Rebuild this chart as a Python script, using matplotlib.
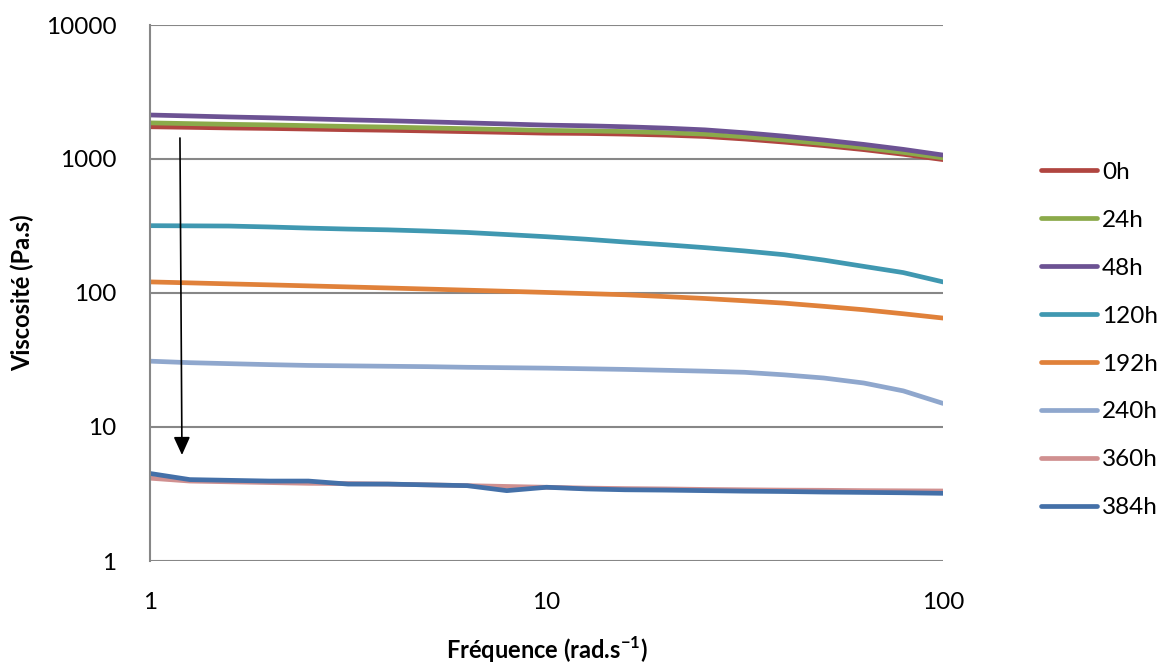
import matplotlib
matplotlib.use("Agg")
import matplotlib.pyplot as plt
from matplotlib.ticker import FixedLocator, FixedFormatter, NullLocator

plt.rcParams['font.family'] = ['Lato', 'DejaVu Sans']

freq = [1, 1.26, 1.58, 2.0, 2.51, 3.16, 3.98, 5.01, 6.31, 7.94, 10,
        12.6, 15.8, 20.0, 25.1, 31.6, 39.8, 50.1, 63.1, 79.4, 100]

v_0h = [1740, 1723, 1705, 1691, 1673, 1654, 1639, 1620, 1600, 1580, 1559,
        1551, 1534, 1508, 1473, 1410, 1337, 1259, 1175, 1085, 990]
v_24h = [1860, 1837, 1815, 1797, 1774, 1750, 1731, 1707, 1683, 1659, 1634,
         1623, 1603, 1573, 1533, 1465, 1387, 1303, 1214, 1120, 1020]
v_48h = [2130, 2095, 2060, 2030, 1995, 1960, 1930, 1895, 1860, 1825, 1790,
         1770, 1740, 1700, 1650, 1570, 1480, 1385, 1285, 1180, 1070]
v_120h = [318, 317, 316, 311, 305, 300, 296, 290, 283, 273, 263,
          252, 240, 229, 218, 206, 193, 176, 158, 142, 121]
v_192h = [121, 119, 117, 115, 113, 111, 109, 107, 105, 103, 101,
          99, 97, 94, 91, 87.5, 84, 79.5, 75, 70, 65]
v_240h = [31, 30.2, 29.7, 29.2, 28.8, 28.6, 28.4, 28.2, 27.9, 27.7, 27.5,
          27.2, 26.9, 26.5, 26.1, 25.6, 24.5, 23.2, 21.3, 18.6, 15.0]
v_360h = [4.15, 3.95, 3.9, 3.85, 3.8, 3.78, 3.75, 3.7, 3.65, 3.6, 3.55,
          3.5, 3.47, 3.45, 3.42, 3.4, 3.38, 3.37, 3.35, 3.34, 3.33]
v_384h = [4.5, 4.05, 4.0, 3.95, 3.95, 3.75, 3.75, 3.7, 3.65, 3.35, 3.55,
          3.45, 3.4, 3.38, 3.35, 3.32, 3.3, 3.27, 3.25, 3.23, 3.2]

labels = ['0h', '24h', '48h', '120h', '192h', '240h', '360h', '384h']
series = [v_0h, v_24h, v_48h, v_120h, v_192h, v_240h, v_360h, v_384h]
colors = ['#B04540', '#8BAA4A', '#6C5293', '#4098B1', '#E0813A',
          '#8FA7CD', '#D09090', '#4470A8']

y_ticks = [1, 10, 100, 1000, 10000]
y_ticklabels = ['1', '10', '100', '1000', '10000']
x_ticks = [1, 10, 100]
x_ticklabels = ['1', '10', '100']

fig = plt.figure(figsize=(11.57, 6.66), dpi=100)
ax = fig.add_axes([150/1157, 1-561/666, (943-150)/1157, (561-25)/666])

for vals, lab, c in zip(series, labels, colors):
    ax.plot(freq, vals, color=c, lw=3.4, label=lab, solid_capstyle='round',
            solid_joinstyle='round')

ax.set_xscale('log')
ax.set_yscale('log')
ax.set_xlim(1, 100)
ax.set_ylim(1, 10000)

ax.yaxis.set_major_locator(FixedLocator(y_ticks))
ax.yaxis.set_major_formatter(FixedFormatter(y_ticklabels))
ax.yaxis.set_minor_locator(NullLocator())
ax.xaxis.set_major_locator(FixedLocator(x_ticks))
ax.xaxis.set_major_formatter(FixedFormatter(x_ticklabels))
ax.xaxis.set_minor_locator(NullLocator())

ax.grid(True, axis='y', color='#878787', lw=1.5)
ax.set_axisbelow(True)
for s in ['top', 'right', 'bottom']:
    ax.spines[s].set_visible(False)
ax.spines['left'].set_color('#878787')
ax.spines['left'].set_linewidth(1.5)
ax.tick_params(axis='y', length=0, pad=24, labelsize=17.5)
ax.tick_params(axis='x', length=0, pad=22, labelsize=17.5)

ax.set_xlabel('Fréquence (rad.s$^{\\mathregular{-1}}$)', fontsize=17,
              fontweight='bold')
ax.xaxis.set_label_coords(0.5, (561-650)/536)
ax.xaxis.label.set_va('center')
ax.set_ylabel('Viscosité (Pa.s)', fontsize=17, fontweight='bold')
ax.yaxis.set_label_coords((22-150)/793, 0.5)
ax.yaxis.label.set_va('center')

ax.annotate('', xy=(1.204, 6.18), xytext=(1.19, 1435),
            arrowprops=dict(arrowstyle='-|>,head_length=1.1,head_width=0.5',
                            mutation_scale=10, color='black', lw=1.2,
                            shrinkA=0, shrinkB=0))

fig.legend(loc='center left', bbox_to_anchor=(1041/1157, 1-340/666),
           frameon=False, fontsize=17.5, handlelength=2.3, handletextpad=0.2,
           labelspacing=1.11, borderpad=0, borderaxespad=0)

fig.savefig('out.png', dpi=100)
